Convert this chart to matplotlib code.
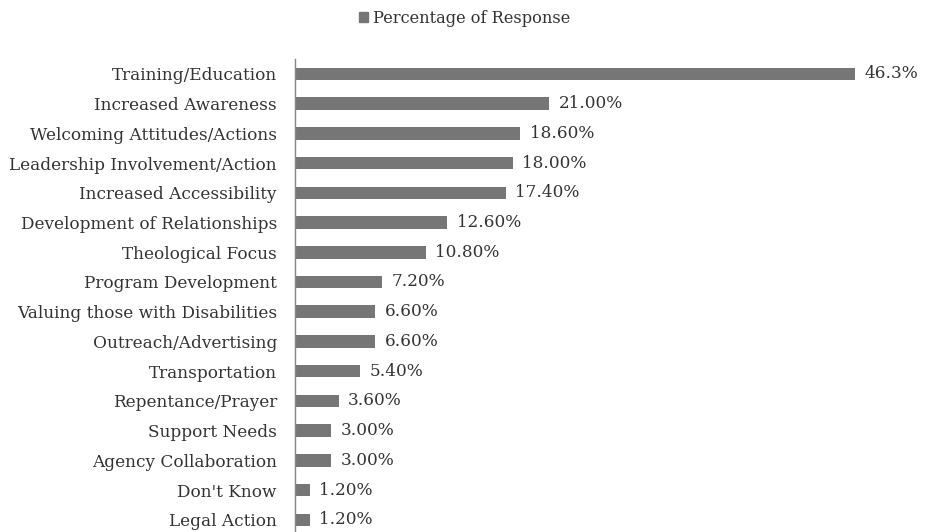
import matplotlib
matplotlib.use("Agg")
import matplotlib.pyplot as plt
from matplotlib.patches import Patch

categories = ["Training/Education", "Increased Awareness", "Welcoming Attitudes/Actions",
              "Leadership Involvement/Action", "Increased Accessibility",
              "Development of Relationships", "Theological Focus", "Program Development",
              "Valuing those with Disabilities", "Outreach/Advertising", "Transportation",
              "Repentance/Prayer", "Support Needs", "Agency Collaboration", "Don't Know",
              "Legal Action"]
values = [46.3, 21.0, 18.6, 18.0, 17.4, 12.6, 10.8, 7.2, 6.6, 6.6, 5.4, 3.6, 3.0, 3.0, 1.2, 1.2]
value_labels = ["46.3%", "21.00%", "18.60%", "18.00%", "17.40%", "12.60%", "10.80%", "7.20%",
                "6.60%", "6.60%", "5.40%", "3.60%", "3.00%", "3.00%", "1.20%", "1.20%"]
series_name = "Percentage of Response"

plt.rcParams['font.family'] = ['DejaVu Serif']
fig = plt.figure(figsize=(9.26, 5.32), dpi=100)
ax = fig.add_axes([295/926, -0.005, 605/926, 0.894])

bar_color = "#767676"
text_color = "#333333"
fs = 12.2
y = list(range(len(categories)))
ax.barh(y, values, height=0.42, color=bar_color)
ax.set_ylim(len(categories) - 0.5, -0.5)
ax.set_xlim(0, 50)
ax.set_yticks(y)
ax.set_yticklabels(categories, fontsize=fs, color=text_color)
ax.tick_params(axis='y', length=0, pad=13)
ax.set_xticks([])
for s in ["top", "right", "bottom"]:
    ax.spines[s].set_visible(False)
ax.spines["left"].set_color("#888888")
ax.spines["left"].set_linewidth(1)

for yi, v, lab in zip(y, values, value_labels):
    ax.text(v + 0.8, yi, lab, va='center', ha='left', fontsize=fs, color=text_color)

fig.legend(handles=[Patch(color=bar_color, label=series_name)], loc='center',
           bbox_to_anchor=(0.502, 0.966), frameon=False, fontsize=11.7,
           handlelength=0.55, handleheight=0.55, handletextpad=0.3,
           labelcolor=text_color)

fig.savefig("out.png", dpi=100)
